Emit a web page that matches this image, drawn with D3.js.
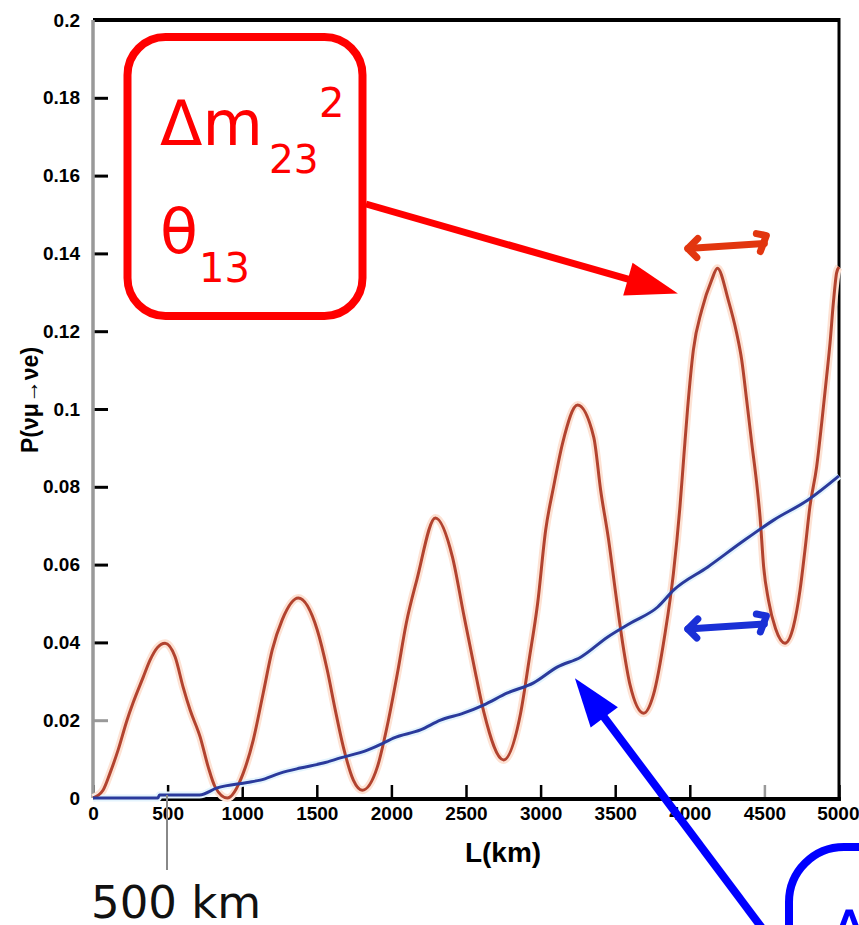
<!DOCTYPE html>
<html>
<head>
<meta charset="utf-8">
<script src="https://cdn.jsdelivr.net/npm/d3@7"></script>
<style>
  body { margin: 0; background: #fff; }
  svg { display: block; }
  .tick text { font-family: "Liberation Sans", Arial, sans-serif; font-weight: bold; font-size: 19px; fill: #000; }
</style>
</head>
<body>
<svg width="859" height="925"></svg>
<script>
var width = 859, height = 925;

// data: L in km, probability
var xTickValues = [0, 500, 1000, 1500, 2000, 2500, 3000, 3500, 4000, 4500, 5000];
var xTickLabels = ["0", "500", "1000", "1500", "2000", "2500", "3000", "3500", "4000", "4500", "5000"];
var yTickValues = [0, 0.02, 0.04, 0.06, 0.08, 0.1, 0.12, 0.14, 0.16, 0.18, 0.2];
var yTickLabels = ["0", "0.02", "0.04", "0.06", "0.08", "0.1", "0.12", "0.14", "0.16", "0.18", "0.2"];

// oscillating curve (red)
var redL = [0, 67, 114, 168, 228, 268, 336, 383, 430, 483, 550, 604, 651, 718, 772, 819, 900,
  1007, 1074, 1141, 1201, 1268, 1376, 1503, 1570, 1624, 1678, 1745, 1805,
  1906, 1980, 2040, 2100, 2170, 2295, 2409, 2483, 2564, 2620, 2752,
  2866, 2925, 2980, 3034, 3087, 3148, 3248, 3356, 3403, 3456, 3503, 3550, 3600, 3691,
  3756, 3834, 3890, 3934, 3960, 3985, 4024, 4080, 4147, 4185,
  4258, 4314, 4348, 4381, 4415, 4448, 4471, 4495, 4527, 4575, 4638,
  4694, 4739, 4772, 4805, 4850, 4884, 4917, 4940, 4962, 4984, 5000];
var redP = [0, 0.002, 0.0064, 0.0123, 0.020, 0.0244, 0.031, 0.0355, 0.0386, 0.0398, 0.0363, 0.0285, 0.0226, 0.0157, 0.008, 0.0028, 0,
  0.0064, 0.0149, 0.027, 0.038, 0.0458, 0.0514, 0.0432, 0.0329, 0.0226, 0.0131, 0.0046, 0.002,
  0.008, 0.020, 0.032, 0.045, 0.056, 0.072, 0.062, 0.0475, 0.032, 0.022, 0.0098,
  0.0218, 0.036, 0.050, 0.0689, 0.080, 0.0913, 0.101, 0.0928, 0.079, 0.0663, 0.0527, 0.0398, 0.029, 0.0218,
  0.0265, 0.0423, 0.0577, 0.0749, 0.0878, 0.1, 0.1152, 0.1254, 0.1332, 0.1362,
  0.128, 0.1195, 0.1126, 0.1023, 0.0913, 0.081, 0.0722, 0.0594, 0.0509, 0.0435, 0.0398,
  0.044, 0.0535, 0.0638, 0.0749, 0.0851, 0.0964, 0.1083, 0.117, 0.1272, 0.135, 0.1365];

// slowly rising curve (blue)
var blueL = [0, 436, 445, 714, 832, 1034, 1121, 1255, 1389, 1544, 1658, 1839, 1946, 2013, 2195, 2329,
  2483, 2617, 2778, 2953, 3114, 3268, 3450, 3604, 3785, 3893, 4121, 4342, 4564, 4792, 5000];
var blueP = [0, 0, 0.0008, 0.0008, 0.0026, 0.004, 0.0046, 0.0064, 0.0077, 0.009, 0.0103, 0.0123, 0.0141, 0.0154, 0.0175, 0.02,
  0.0218, 0.0239, 0.027, 0.0296, 0.0337, 0.0362, 0.0414, 0.045, 0.0491, 0.0535, 0.0594, 0.0656, 0.0715, 0.0766, 0.0828];

var svg = d3.select("svg");

var x = d3.scaleLinear().domain([0, 5000]).range([93, 839]);
var y = d3.scaleLinear().domain([0, 0.2]).range([798, 20]);

// axes with inward ticks
var yAxis = d3.axisLeft(y).tickValues(yTickValues)
  .tickFormat(function (d, i) { return yTickLabels[i]; })
  .tickSize(-15).tickPadding(13);
var gy = svg.append("g").attr("transform", "translate(93,0)").call(yAxis);
gy.select(".domain").remove();
gy.selectAll(".tick line").attr("stroke", function (d) { return d === 0.02 ? "#999" : "#000"; }).attr("stroke-width", 3);

var xAxis = d3.axisBottom(x).tickValues(xTickValues)
  .tickFormat(function (d, i) { return xTickLabels[i]; })
  .tickSize(-13).tickPadding(9);
var gx = svg.append("g").attr("transform", "translate(0,798)").call(xAxis);
gx.select(".domain").remove();
gx.selectAll(".tick line").attr("stroke", function (d) { return d === 4500 ? "#999" : "#000"; }).attr("stroke-width", 2.5);
// last label sits against the right edge
gx.selectAll(".tick text").filter(function (d) { return d === 5000; }).attr("text-anchor", "end").attr("dx", 20);

// frame
svg.append("line").attr("x1", 93).attr("x2", 839).attr("y1", 20).attr("y2", 20).attr("stroke", "#000").attr("stroke-width", 4);
svg.append("line").attr("x1", 839).attr("x2", 839).attr("y1", 18).attr("y2", 800).attr("stroke", "#000").attr("stroke-width", 3);
svg.append("line").attr("x1", 93).attr("x2", 841).attr("y1", 799).attr("y2", 799).attr("stroke", "#000").attr("stroke-width", 4);
svg.append("line").attr("x1", 93).attr("x2", 93).attr("y1", 20).attr("y2", 798).attr("stroke", "#999").attr("stroke-width", 3.5);

// axis titles
svg.append("text").attr("x", 503).attr("y", 862).attr("text-anchor", "middle")
  .attr("font-family", "Liberation Sans, Arial, sans-serif").attr("font-weight", "bold").attr("font-size", 28)
  .text("L(km)");
svg.append("text").attr("transform", "translate(38,400) rotate(-90)").attr("text-anchor", "middle")
  .attr("font-family", "Liberation Sans, Arial, sans-serif").attr("font-weight", "bold").attr("font-size", 23)
  .text("P(νμ→νe)");

// curves
var redData = redL.map(function (l, i) { return [l, redP[i]]; });
var blueData = blueL.map(function (l, i) { return [l, blueP[i]]; });
var line = d3.line().x(function (d) { return x(d[0]); }).y(function (d) { return y(d[1]); }).curve(d3.curveMonotoneX);

svg.append("path").datum(redData).attr("d", line).attr("fill", "none").attr("stroke", "#fde2d4").attr("stroke-width", 8);
svg.append("path").datum(blueData).attr("d", line).attr("fill", "none").attr("stroke", "#e4f4fd").attr("stroke-width", 7);
svg.append("path").datum(redData).attr("d", line).attr("fill", "none").attr("stroke", "#b2432f").attr("stroke-width", 3);
svg.append("path").datum(blueData).attr("d", line).attr("fill", "none").attr("stroke", "#2a3a9c").attr("stroke-width", 3);

// hand-drawn double arrows (error marks)
var marks = [
  { l0: 3960, l1: 4540, p: 0.1415, color: "#e2360f" },
  { l0: 3960, l1: 4540, p: 0.0437, color: "#1a30d6" }
];
marks.forEach(function (m) {
  var x0 = x(m.l0), x1 = x(m.l1), yy = y(m.p);
  var g = svg.append("g").attr("fill", "none").attr("stroke", m.color).attr("stroke-width", 7)
    .attr("stroke-linecap", "round").attr("stroke-linejoin", "round");
  g.append("path").attr("d", "M" + (x0 + 4) + "," + (yy + 1) + "L" + (x1 - 6) + "," + (yy - 4));
  g.append("path").attr("d", "M" + (x0 + 14) + "," + (yy - 9) + "L" + (x0 + 4) + "," + (yy + 1) + "L" + (x0 + 13) + "," + (yy + 10));
  g.append("path").attr("d", "M" + (x1 - 14) + "," + (yy - 14) + "L" + (x1 - 4) + "," + (yy - 12) + "L" + (x1 - 10) + "," + (yy + 4));
});

// arrows
function arrow(x1, y1, x2, y2, color, headLen, headHalf, sw) {
  var dx = x2 - x1, dy = y2 - y1, len = Math.sqrt(dx * dx + dy * dy);
  var ux = dx / len, uy = dy / len, px = -uy, py = ux;
  var bx = x2 - ux * headLen, by = y2 - uy * headLen;
  svg.append("line").attr("x1", x1).attr("y1", y1).attr("x2", bx + ux * 2).attr("y2", by + uy * 2)
    .attr("stroke", color).attr("stroke-width", sw);
  svg.append("path")
    .attr("d", "M" + x2 + "," + y2 + "L" + (bx + px * headHalf) + "," + (by + py * headHalf) +
      "L" + (bx - px * headHalf) + "," + (by - py * headHalf) + "Z")
    .attr("fill", color);
}
arrow(366, 204, x(3920), y(0.1297), "#ff0000", 52, 17, 7);
arrow(780, 952, x(3230), y(0.0308), "#0000ff", 49, 17, 8);

// red annotation box
svg.append("rect").attr("x", 127.5).attr("y", 37).attr("width", 235).attr("height", 279).attr("rx", 38)
  .attr("fill", "#fff").attr("stroke", "#ff0000").attr("stroke-width", 8);
var red = svg.append("g").attr("fill", "#ff0000").attr("font-family", "DejaVu Sans, Verdana, sans-serif");
red.append("text").attr("x", 160).attr("y", 145).attr("font-size", 62).text("Δm");
red.append("text").attr("x", 269).attr("y", 173).attr("font-size", 39).text("23");
red.append("text").attr("x", 319).attr("y", 117).attr("font-size", 40).text("2");
red.append("text").attr("x", 160).attr("y", 253).attr("font-size", 62).text("θ");
red.append("text").attr("x", 199).attr("y", 282).attr("font-size", 40).text("13");

// blue annotation box (cut by the edge)
svg.append("rect").attr("x", 789).attr("y", 847).attr("width", 200).attr("height", 200).attr("rx", 55)
  .attr("fill", "#fff").attr("stroke", "#0000ff").attr("stroke-width", 8);
svg.append("text").attr("x", 828).attr("y", 955).attr("font-size", 62)
  .attr("font-family", "DejaVu Sans, Verdana, sans-serif").attr("fill", "#0000ff").text("Δ");

// 500 km marker
svg.append("line").attr("x1", 167).attr("x2", 167).attr("y1", 795).attr("y2", 870).attr("stroke", "#888").attr("stroke-width", 2);
svg.append("text").attr("x", 91).attr("y", 918).attr("font-size", 45)
  .attr("font-family", "DejaVu Sans, Verdana, sans-serif").attr("fill", "#111").text("500 km");
</script>
</body>
</html>
